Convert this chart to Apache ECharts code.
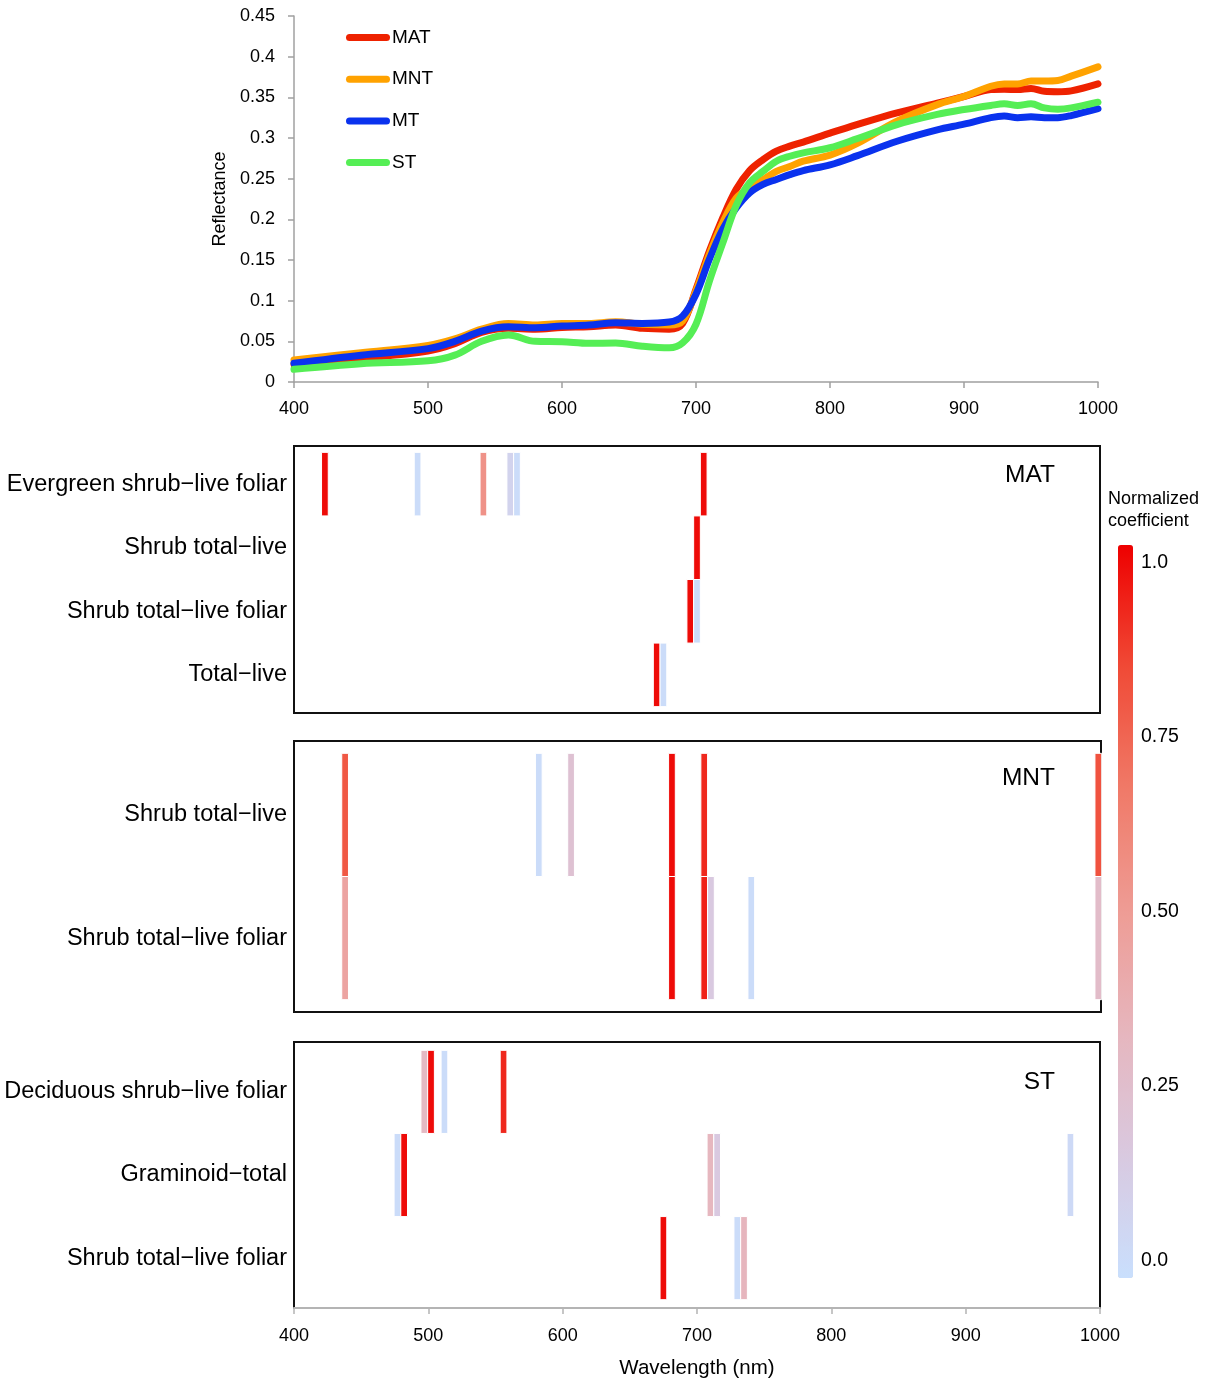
<!DOCTYPE html>
<html>
<head>
<meta charset="utf-8">
<script src="https://cdn.jsdelivr.net/npm/echarts@6/dist/echarts.min.js"></script>
<style>
  html, body { margin: 0; padding: 0; background: #fff; }
  #chart { width: 1211px; height: 1381px; }
</style>
</head>
<body>
<div id="chart"></div>
<script>
// ---- Mean canopy reflectance spectra ----
const wavelengths = [400, 450, 500, 520, 540, 560, 580, 600, 620, 640, 660, 680, 690, 700, 710, 720, 730, 740, 750, 760, 770, 780, 800, 820, 850, 880, 900, 920, 930, 940, 950, 960, 970, 980, 1000];
const reflMAT = [0.022, 0.029, 0.038, 0.047, 0.061, 0.066, 0.065, 0.067, 0.068, 0.070, 0.066, 0.065, 0.072, 0.114, 0.161, 0.202, 0.237, 0.260, 0.2735, 0.284, 0.290, 0.295, 0.306, 0.3165, 0.331, 0.343, 0.351, 0.3595, 0.360, 0.3595, 0.361, 0.3575, 0.357, 0.358, 0.3665];
const reflMNT = [0.027, 0.036, 0.045, 0.053, 0.065, 0.072, 0.070, 0.072, 0.072, 0.074, 0.071, 0.070, 0.075, 0.112, 0.157, 0.196, 0.226, 0.239, 0.249, 0.259, 0.265, 0.2715, 0.279, 0.293, 0.3206, 0.341, 0.351, 0.3636, 0.3665, 0.3665, 0.370, 0.370, 0.3706, 0.376, 0.3874];
const reflMT  = [0.023, 0.033, 0.041, 0.050, 0.0627, 0.068, 0.0667, 0.0688, 0.070, 0.0729, 0.072, 0.0737, 0.081, 0.108, 0.151, 0.188, 0.214, 0.2326, 0.243, 0.249, 0.255, 0.260, 0.267, 0.278, 0.296, 0.310, 0.317, 0.325, 0.327, 0.325, 0.326, 0.325, 0.325, 0.3276, 0.336];
const reflST  = [0.0156, 0.0225, 0.026, 0.033, 0.050, 0.0577, 0.050, 0.0495, 0.0475, 0.048, 0.044, 0.042, 0.048, 0.071, 0.124, 0.171, 0.217, 0.245, 0.259, 0.2715, 0.2776, 0.2817, 0.288, 0.299, 0.3165, 0.329, 0.335, 0.340, 0.342, 0.340, 0.342, 0.337, 0.3354, 0.337, 0.344];
const groupNames = ['MAT', 'MNT', 'MT', 'ST'];
const groupColors = ['#ee2200', '#ffa200', '#0a32ee', '#55ee55'];

// ---- Selected bands: [wavelength (nm), row index, normalized coefficient] ----
const matRows = ['Evergreen shrub\u2212live foliar', 'Shrub total\u2212live', 'Shrub total\u2212live foliar', 'Total\u2212live'];
const matBands = [
  [423, 0, 1.0], [492, 0, 0.0], [541, 0, 0.55], [561, 0, 0.07], [566, 0, 0.0], [705, 0, 1.0],
  [700, 1, 1.0],
  [695, 2, 1.0], [700, 2, 0.0],
  [670, 3, 1.0], [675, 3, 0.0]
];
const mntRows = ['Shrub total\u2212live', 'Shrub total\u2212live foliar'];
const mntBands = [
  [438, 0, 0.8], [582, 0, 0.0], [606, 0, 0.22], [681, 0, 1.0], [705, 0, 0.93], [998, 0, 0.82],
  [438, 1, 0.45], [681, 1, 1.0], [705, 1, 0.95], [710, 1, 0.15], [740, 1, 0.0], [998, 1, 0.27]
];
const stRows = ['Deciduous shrub\u2212live foliar', 'Graminoid\u2212total', 'Shrub total\u2212live foliar'];
const stBands = [
  [497, 0, 0.3], [502, 0, 1.0], [512, 0, 0.0], [556, 0, 0.93],
  [477, 1, 0.0], [482, 1, 1.0], [710, 1, 0.32], [715, 1, 0.15], [978, 1, 0.02],
  [675, 2, 1.0], [730, 2, 0.0], [735, 2, 0.33]
];
const colorTicks = [0, 0.25, 0.5, 0.75, 1];

const FONT = '"Liberation Sans", Arial, Helvetica, sans-serif';
const BAND_NM = 5;

const chart = echarts.init(document.getElementById('chart'), null, { renderer: 'canvas' });

// rectangles spanning one band horizontally and one row vertically
function renderBand(params, api) {
  const w = api.value(0), r = api.value(1);
  const p0 = api.coord([w - BAND_NM / 2, r - 0.5]);
  const p1 = api.coord([w + BAND_NM / 2, r + 0.5]);
  return {
    type: 'rect',
    shape: {
      x: Math.min(p0[0], p1[0]),
      y: Math.min(p0[1], p1[1]),
      width: Math.abs(p1[0] - p0[0]),
      height: Math.abs(p1[1] - p0[1])
    },
    style: { fill: api.visual('color'), stroke: '#ffffff', lineWidth: 1 }
  };
}

function panelY(idx, rows) {
  return {
    gridIndex: idx, type: 'value', inverse: true,
    min: -0.6, max: rows.length - 0.4,
    axisLine: { show: false }, axisTick: { show: false }, splitLine: { show: false },
    axisLabel: {
      customValues: rows.map((_, i) => i),
      formatter: v => rows[Math.round(v)],
      fontFamily: FONT, fontSize: 23.5, color: '#000', margin: 7
    }
  };
}

function hiddenX(idx) {
  return { gridIndex: idx, type: 'value', min: 400, max: 1000, show: false };
}

const plainNumber = v => String(v);
const panelTitle = { fontFamily: FONT, fontSize: 24.5, fontWeight: 'normal', color: '#000' };

const option = {
  backgroundColor: '#ffffff',
  animation: false,
  textStyle: { fontFamily: FONT },
  title: [
    { text: 'MAT', right: 156, top: 463, textStyle: panelTitle, padding: 0 },
    { text: 'MNT', right: 156, top: 766, textStyle: panelTitle, padding: 0 },
    { text: 'ST', right: 156, top: 1070, textStyle: panelTitle, padding: 0 },
    { text: 'Normalized\ncoefficient', left: 1108, top: 488, padding: 0,
      textStyle: { fontFamily: FONT, fontSize: 18, lineHeight: 22, fontWeight: 'normal', color: '#000' } }
  ],
  legend: {
    data: groupNames, orient: 'vertical', left: 346, top: 28, padding: 0,
    itemWidth: 44, itemHeight: 7, itemGap: 22.7,
    icon: 'path://M3.5,0 L40.5,0 A3.5,3.5 0 0 1 40.5,7 L3.5,7 A3.5,3.5 0 0 1 3.5,0 Z',
    textStyle: { fontFamily: FONT, fontSize: 19, color: '#000', padding: [0, 0, 0, -3] }
  },
  grid: [
    { left: 294, top: 16, width: 804, height: 366 },
    { left: 294, top: 446, width: 806, height: 267, show: true, borderColor: '#111', borderWidth: 2 },
    { left: 294, top: 741, width: 807, height: 271, show: true, borderColor: '#111', borderWidth: 2 },
    { left: 294, top: 1042, width: 806, height: 266, show: true, borderColor: '#111', borderWidth: 2 },
    { left: 1118, top: 545, width: 15, height: 733 }
  ],
  xAxis: [
    {
      gridIndex: 0, type: 'value', min: 400, max: 1000, interval: 100,
      axisLine: { onZero: false, lineStyle: { color: '#a0a0a0', width: 1.5 } },
      axisTick: { show: true, length: 6, lineStyle: { color: '#a0a0a0', width: 1.5 } },
      splitLine: { show: false },
      axisLabel: { fontFamily: FONT, fontSize: 18, color: '#000', margin: 18, formatter: plainNumber }
    },
    hiddenX(1), hiddenX(2),
    {
      gridIndex: 3, type: 'value', min: 400, max: 1000, interval: 100, z: 5,
      axisLine: { onZero: false, lineStyle: { color: '#b4b4b4', width: 2 } },
      axisTick: { show: true, length: 6, lineStyle: { color: '#b4b4b4', width: 1.5 } },
      splitLine: { show: false },
      axisLabel: { fontFamily: FONT, fontSize: 18, color: '#000', margin: 19, formatter: plainNumber },
      name: 'Wavelength (nm)', nameLocation: 'middle', nameGap: 50,
      nameTextStyle: { fontFamily: FONT, fontSize: 20.5, color: '#000' }
    },
    { gridIndex: 4, type: 'value', show: false, min: 0, max: 1 }
  ],
  yAxis: [
    {
      gridIndex: 0, type: 'value', min: 0, max: 0.45, interval: 0.05,
      axisLine: { show: true, onZero: false, lineStyle: { color: '#a0a0a0', width: 1.5 } },
      axisTick: { show: true, length: 6, lineStyle: { color: '#a0a0a0', width: 1.5 } },
      splitLine: { show: false },
      axisLabel: { fontFamily: FONT, fontSize: 18, color: '#000', margin: 19 },
      name: 'Reflectance', nameLocation: 'middle', nameRotate: 90, nameGap: 60,
      nameTextStyle: { fontFamily: FONT, fontSize: 18, color: '#000' }
    },
    panelY(1, matRows), panelY(2, mntRows), panelY(3, stRows),
    {
      gridIndex: 4, type: 'value', min: -0.025, max: 1.025, position: 'right', z: 10,
      axisLine: { show: false }, splitLine: { show: false },
      axisTick: { show: true, inside: true, length: 3, customValues: colorTicks, lineStyle: { color: '#ffffff', width: 1 } },
      axisLabel: {
        customValues: colorTicks, margin: 8,
        formatter: v => (v === 0 ? '0.0' : v === 1 ? '1.0' : v.toFixed(2)),
        fontFamily: FONT, fontSize: 19.5, color: '#000'
      }
    }
  ],
  visualMap: {
    type: 'continuous', seriesIndex: [4, 5, 6], dimension: 2,
    min: -0.025, max: 1.025, calculable: false, hoverLink: false,
    left: 1118, top: 545, itemWidth: 15, itemHeight: 733, padding: 0,
    inRange: { color: ['#c9dffd', '#d9c9e0', '#e6b6be', '#ee9c95', '#f07a68', '#f04a36', '#ee0000'] }
  },
  series: [
    ...groupNames.map((name, k) => ({
      name, type: 'line', xAxisIndex: 0, yAxisIndex: 0,
      data: wavelengths.map((w, i) => [w, [reflMAT, reflMNT, reflMT, reflST][k][i]]),
      smooth: 0.35, symbol: 'none', z: 2 + k,
      itemStyle: { color: groupColors[k] },
      lineStyle: { color: groupColors[k], width: 7, cap: 'round', join: 'round' }
    })),
    { type: 'custom', xAxisIndex: 1, yAxisIndex: 1, renderItem: renderBand, data: matBands, encode: { x: 0, y: 1 } },
    { type: 'custom', xAxisIndex: 2, yAxisIndex: 2, renderItem: renderBand, data: mntBands, encode: { x: 0, y: 1 } },
    { type: 'custom', xAxisIndex: 3, yAxisIndex: 3, renderItem: renderBand, data: stBands, encode: { x: 0, y: 1 } }
  ]
};

chart.setOption(option);
</script>
</body>
</html>
